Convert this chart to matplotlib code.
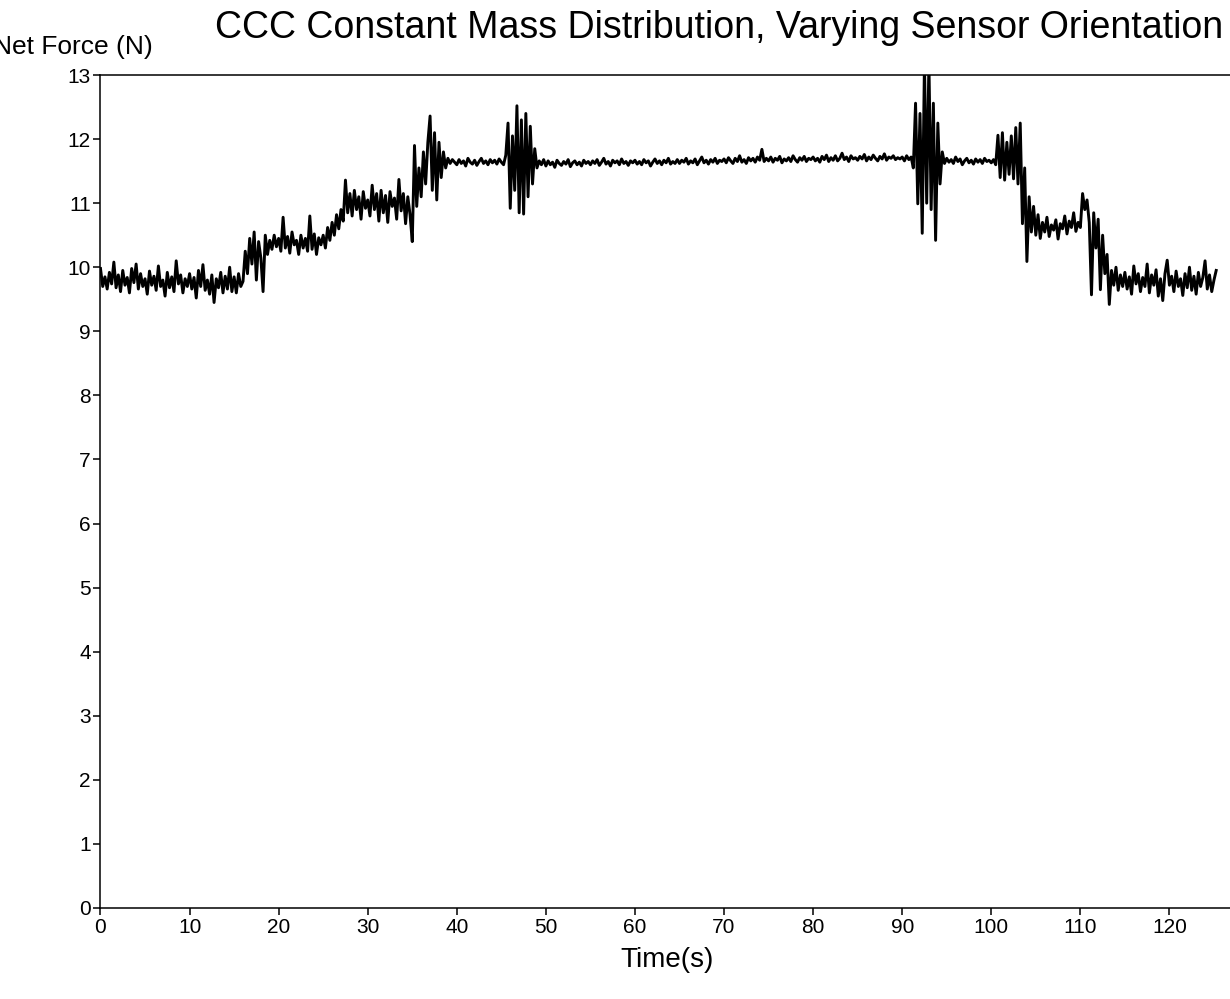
import matplotlib
matplotlib.use("Agg")
import matplotlib.pyplot as plt
import numpy as np

plt.rcParams['font.family'] = ['Liberation Sans', 'DejaVu Sans']

## force sensor readings, one sample every 0.25 s
sample_interval = 0.25
force_0_25 = [
    9.98, 9.70, 9.85, 9.66, 9.92, 9.74, 10.08, 9.68, 9.88, 9.62, 9.95, 9.72, 9.84, 9.60, 9.98, 9.76, 10.05, 9.66, 9.90, 9.70,
    9.82, 9.58, 9.94, 9.72, 9.86, 9.64, 10.02, 9.70, 9.80, 9.55, 9.92, 9.68, 9.85, 9.62, 10.10, 9.74, 9.88, 9.60, 9.82, 9.70,
    9.90, 9.66, 9.84, 9.52, 9.95, 9.70, 10.04, 9.64, 9.80, 9.58, 9.88, 9.45, 9.82, 9.68, 9.92, 9.60, 9.86, 9.66, 10.00, 9.62,
    9.85, 9.60, 9.90, 9.70, 9.78, 10.25, 9.90, 10.45, 10.05, 10.55, 9.80, 10.40, 10.15, 9.62, 10.50, 10.20, 10.42, 10.28, 10.50, 10.32,
    10.45, 10.25, 10.78, 10.30, 10.48, 10.22, 10.55, 10.35, 10.42, 10.20, 10.50, 10.30, 10.45, 10.25, 10.80, 10.28, 10.52, 10.20, 10.46, 10.35,
]
force_25_50 = [
    10.50, 10.30, 10.62, 10.42, 10.70, 10.50, 10.82, 10.60, 10.90, 10.72, 11.36, 10.85, 11.15, 10.80, 11.20, 10.90, 11.10, 10.75, 11.18, 10.92,
    11.05, 10.80, 11.28, 10.90, 11.15, 10.72, 11.20, 10.85, 11.12, 10.70, 11.18, 10.95, 11.08, 10.75, 11.37, 10.88, 11.15, 10.68, 11.10, 10.82,
    10.40, 11.90, 10.95, 11.55, 11.10, 11.80, 11.30, 11.95, 12.36, 11.20, 12.10, 11.05, 11.95, 11.40, 11.80, 11.55, 11.70, 11.62, 11.68, 11.64,
    11.60, 11.68, 11.62, 11.66, 11.58, 11.70, 11.64, 11.61, 11.67, 11.59, 11.65, 11.70, 11.62, 11.66, 11.60, 11.68, 11.63, 11.67, 11.61, 11.69,
    11.64, 11.60, 11.75, 12.25, 10.92, 12.05, 11.20, 12.52, 10.85, 12.30, 10.83, 12.40, 11.10, 12.20, 11.30, 11.85, 11.55, 11.66, 11.60, 11.68,
]
force_50_90 = [
    11.58, 11.66, 11.60, 11.64, 11.56, 11.67, 11.62, 11.59, 11.65, 11.61, 11.68, 11.57, 11.63, 11.66, 11.60, 11.64, 11.58, 11.67, 11.62, 11.65,
    11.60, 11.66, 11.62, 11.68, 11.59, 11.64, 11.70, 11.61, 11.65, 11.58, 11.67, 11.63, 11.66, 11.60, 11.69, 11.62, 11.65, 11.59, 11.66, 11.63,
    11.67, 11.61, 11.65, 11.60, 11.68, 11.63, 11.66, 11.58, 11.64, 11.69, 11.62, 11.66, 11.60, 11.67, 11.63, 11.70, 11.61, 11.65, 11.62, 11.68,
    11.62, 11.67, 11.64, 11.70, 11.61, 11.66, 11.63, 11.69, 11.60, 11.66, 11.72, 11.63, 11.67, 11.61, 11.68, 11.64, 11.70, 11.62, 11.67, 11.65,
    11.69, 11.63, 11.71, 11.66, 11.62, 11.70, 11.65, 11.74, 11.64, 11.68, 11.62, 11.71, 11.66, 11.70, 11.64, 11.72, 11.67, 11.84, 11.65, 11.70,
    11.66, 11.72, 11.64, 11.70, 11.67, 11.73, 11.63, 11.69, 11.66, 11.71, 11.65, 11.74, 11.68, 11.64, 11.71, 11.67, 11.73, 11.65, 11.70, 11.68,
    11.72, 11.66, 11.70, 11.64, 11.73, 11.68, 11.75, 11.65, 11.71, 11.67, 11.74, 11.66, 11.70, 11.78, 11.68, 11.72, 11.65, 11.74, 11.69, 11.71,
    11.67, 11.73, 11.69, 11.76, 11.66, 11.72, 11.68, 11.75, 11.70, 11.66, 11.73, 11.69, 11.77, 11.67, 11.72, 11.70, 11.74, 11.68, 11.71, 11.69,
]
force_90_end = [
    11.72, 11.66, 11.74, 11.68, 11.72, 11.55, 12.56, 10.99, 12.40, 10.53, 13.20, 11.00, 13.20, 10.90, 12.56, 10.42, 12.25, 11.30, 11.80, 11.62,
    11.70, 11.64, 11.68, 11.62, 11.72, 11.65, 11.69, 11.60, 11.66, 11.70, 11.63, 11.67, 11.61, 11.69, 11.64, 11.68, 11.62, 11.70, 11.65, 11.67,
    11.63, 11.68, 11.60, 12.06, 11.40, 12.10, 11.36, 11.95, 11.45, 12.05, 11.38, 12.18, 11.30, 12.25, 10.68, 11.55, 10.09, 11.10, 10.55, 10.95,
    10.50, 10.82, 10.45, 10.70, 10.55, 10.78, 10.48, 10.66, 10.58, 10.74, 10.44, 10.68, 10.60, 10.80, 10.52, 10.72, 10.62, 10.85, 10.56, 10.70,
    10.62, 11.15, 10.90, 11.05, 10.70, 9.57, 10.85, 10.30, 10.75, 9.65, 10.50, 9.90, 10.20, 9.42, 9.95, 9.72, 10.00, 9.64, 9.88, 9.70,
    9.92, 9.66, 9.85, 9.58, 10.02, 9.74, 9.90, 9.62, 9.84, 9.70, 10.05, 9.60, 9.88, 9.72, 9.96, 9.55, 9.82, 9.48, 9.90, 10.11,
    9.72, 9.86, 9.62, 9.94, 9.70, 9.82, 9.56, 9.90, 9.68, 10.00, 9.64, 9.86, 9.58, 9.92, 9.70, 9.84, 10.10, 9.66, 9.88, 9.62,
    9.80, 9.95,
]

force = np.array(force_0_25 + force_25_50 + force_50_90 + force_90_end)
time = np.arange(len(force)) * sample_interval

x_ticks = list(range(0, 121, 10))
y_ticks = list(range(0, 14))

fig = plt.figure(figsize=(12.3, 9.99), dpi=100)
ax = fig.add_axes([0.0817, 0.0911, 0.9183, 0.8338])

ax.plot(time, force, color='black', linewidth=2.1)

ax.set_xlim(0, 126.8)
ax.set_ylim(0, 13)
ax.set_xticks(x_ticks)
ax.set_yticks(y_ticks)
ax.tick_params(direction='out', length=5, width=1.1, labelsize=15, pad=2)
ax.spines['right'].set_visible(False)
for s in ['left', 'bottom', 'top']:
    ax.spines[s].set_linewidth(1.1)

fig.text(0.585, 0.962, 'CCC Constant Mass Distribution, Varying Sensor Orientation',
         ha='center', va='baseline', fontsize=27)
fig.text(-0.006, 0.946, 'Net Force (N)', ha='left', va='baseline', fontsize=19)
fig.text(0.542, 0.032, 'Time(s)', ha='center', va='baseline', fontsize=20)

fig.savefig('out.png', dpi=100)
